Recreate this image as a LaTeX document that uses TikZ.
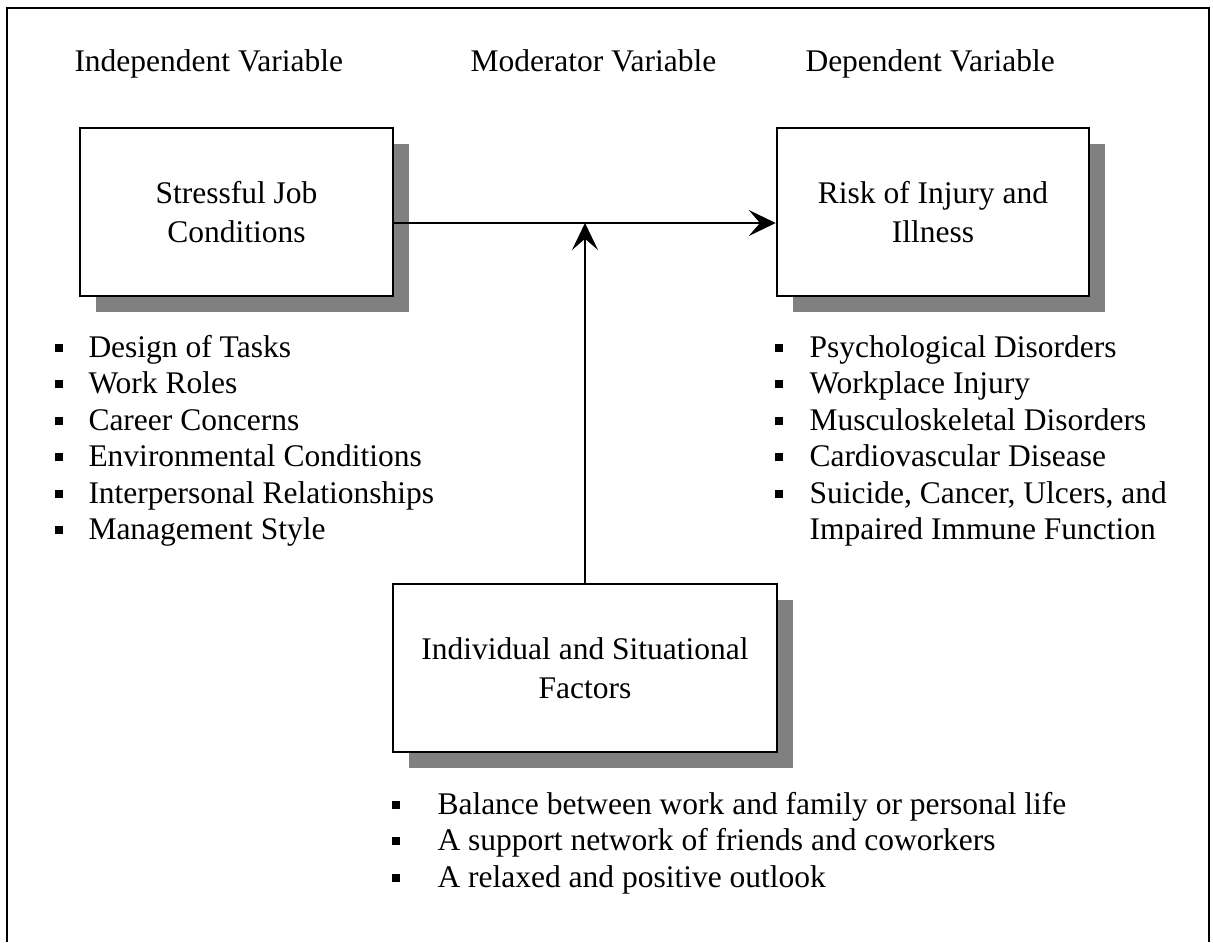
\documentclass[tikz,border=0pt]{standalone}
\usepackage{fontspec}
\setmainfont{Liberation Serif}
\usetikzlibrary{arrows.meta,shadows,calc}
\begin{document}
\begin{tikzpicture}[x=0.4pt,y=-0.4pt,
  txt/.style={font=\fontsize{12.6pt}{14.6pt}\selectfont, inner sep=0pt, anchor=base west},
  boxnode/.style={draw, line width=1pt, fill=white, align=center,
    font=\fontsize{12.6pt}{15.6pt}\selectfont, minimum height=67.2pt,
    drop shadow={shadow xshift=6.4pt, shadow yshift=-6.4pt, opacity=1, fill=black!50}},
  bul/.style={fill=black, inner sep=0pt, minimum size=3.2pt},
  arr/.style={line width=0.9pt, -{Stealth[length=10.8pt,width=10.4pt,inset=4.5pt]}}]
\useasboundingbox (0,0) rectangle (1213,942);
% frame (open at the bottom)
\draw[line width=0.9pt] (7,942) -- (7,8) -- (1209,8) -- (1209,942);
% headers
\node[txt] (h1) at (74,71.5) {Independent Variable};
\node[txt] (h2) at (470,71.5) {Moderator Variable};
\node[txt] (h3) at (805,71.5) {Dependent Variable};
% boxes
\node[boxnode, minimum width=125.2pt] (b1) at (236.5,212) {Stressful Job\\Conditions};
\node[boxnode, minimum width=124.8pt] (b2) at (933,212) {Risk of Injury and\\Illness};
\node[boxnode, minimum width=153.6pt] (b3) at (585,668) {Individual and Situational\\Factors};
% connectors
\coordinate (j) at (585,223);
\draw[arr] (b1.east |- j) -- (b2.west |- j);
\draw[arr] (b3.north) -- (j);
% left list
\foreach \t [count=\i] in {Design of Tasks, Work Roles, Career Concerns, Environmental Conditions, Interpersonal Relationships, Management Style}{
  \node[bul] (lb\i) at (59,{357+(\i-1)*36.5-9.5}) {};
  \node[txt] (lt\i) at (88,{357+(\i-1)*36.5}) {\t};
}
% right list
\foreach \i in {1,...,5}{
  \node[bul] (rb\i) at (779,{357+(\i-1)*36.5-9.5}) {};
}
\node[txt] (rt1) at (809,357) {Psychological Disorders};
\node[txt] (rt2) at (809,393.5) {Workplace Injury};
\node[txt] (rt3) at (809,430) {Musculoskeletal Disorders};
\node[txt] (rt4) at (809,466.5) {Cardiovascular Disease};
\node[txt] (rt5) at (809,503) {Suicide, Cancer, Ulcers, and};
\node[txt] (rt6) at (809,539.5) {Impaired Immune Function};
% bottom list
\foreach \t [count=\i] in {Balance between work and family or personal life, A support network of friends and coworkers, A relaxed and positive outlook}{
  \node[bul] (bb\i) at (396,{814+(\i-1)*36.5-9.5}) {};
  \node[txt] (bt\i) at (437,{814+(\i-1)*36.5}) {\t};
}
\end{tikzpicture}
\end{document}
